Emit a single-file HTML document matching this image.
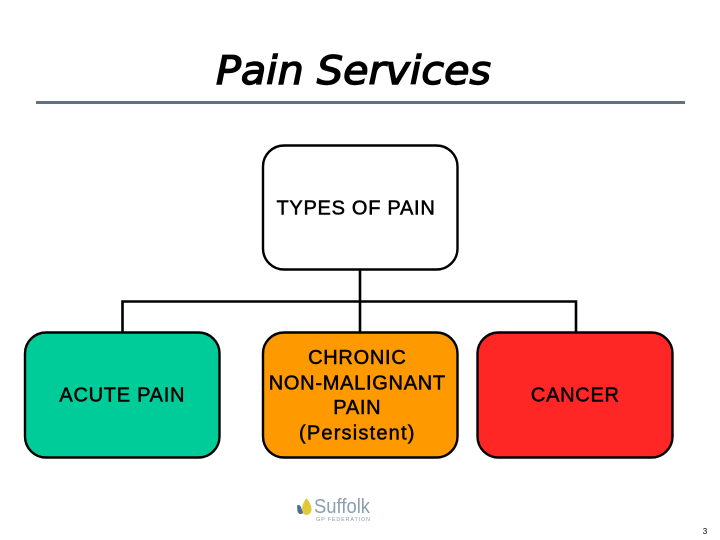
<!DOCTYPE html>
<html>
<head>
<meta charset="utf-8">
<style>
html,body{margin:0;padding:0;background:#fff;width:720px;height:540px;overflow:hidden}
svg{display:block}
text{font-family:"Liberation Sans",sans-serif;fill:#000}
</style>
</head>
<body>
<svg width="720" height="540" viewBox="0 0 720 540" xmlns="http://www.w3.org/2000/svg">
  <rect width="720" height="540" fill="#fff"/>
  <!-- Title -->
  <text x="216" y="84" font-size="39" font-style="italic" stroke="#000" stroke-width="1.4" textLength="275" lengthAdjust="spacingAndGlyphs" style="font-family:'DejaVu Sans',sans-serif">Pain Services</text>
  <rect x="36" y="101" width="649" height="3" fill="#5f7185"/>

  <!-- Connectors -->
  <g fill="none" stroke="#000" stroke-width="2.6">
    <path d="M360 269V302"/>
    <path d="M122.500 332V301.500H576V332"/>
    <path d="M360 301.500V332"/>
  </g>

  <!-- Boxes -->
  <g stroke="#000" stroke-width="2.4">
    <rect x="263" y="145.500" width="194.500" height="124" rx="21" fill="#fff"/>
    <rect x="25" y="332.500" width="194.500" height="125" rx="21" fill="#00cc99"/>
    <rect x="263" y="332.500" width="194.500" height="125" rx="21" fill="#ff9900"/>
    <rect x="477.500" y="332.500" width="195" height="125" rx="21" fill="#ff2626"/>
  </g>

  <!-- Labels -->
  <g font-size="20" text-anchor="middle" stroke="#000" stroke-width="0.5" letter-spacing="0.72">
    <text x="356" y="214.500">TYPES OF PAIN</text>
    <text x="122.300" y="401.500">ACUTE PAIN</text>
    <text x="357.300" y="364">CHRONIC</text>
    <text x="357.300" y="389.500">NON-MALIGNANT</text>
    <text x="357.300" y="414">PAIN</text>
    <text x="357.300" y="439.500" letter-spacing="1.2">(Persistent)</text>
    <text x="575.300" y="401.500">CANCER</text>
  </g>

  <!-- Logo -->
  <path d="M306.500 498C303 503 302 506 302 509C302 513 304 515 306.500 515C309 515 311.500 513 311.500 509C311.500 506 310 503 306.500 498Z" fill="#e3c83a"/>
  <path d="M297 506C298 504 300 505 301 507L303 513C301 515 298 514 297.500 511Z" fill="#4a6f96"/>
  <text x="314" y="513" font-size="20" textLength="56" lengthAdjust="spacingAndGlyphs" style="fill:#8aa0ae">Suffolk</text>
  <text x="316" y="521" font-size="5.500" textLength="54" lengthAdjust="spacing" style="fill:#8d9ba5">GP FEDERATION</text>

  <!-- Page number -->
  <text x="705" y="534" font-size="8" text-anchor="middle">3</text>
</svg>
</body>
</html>
